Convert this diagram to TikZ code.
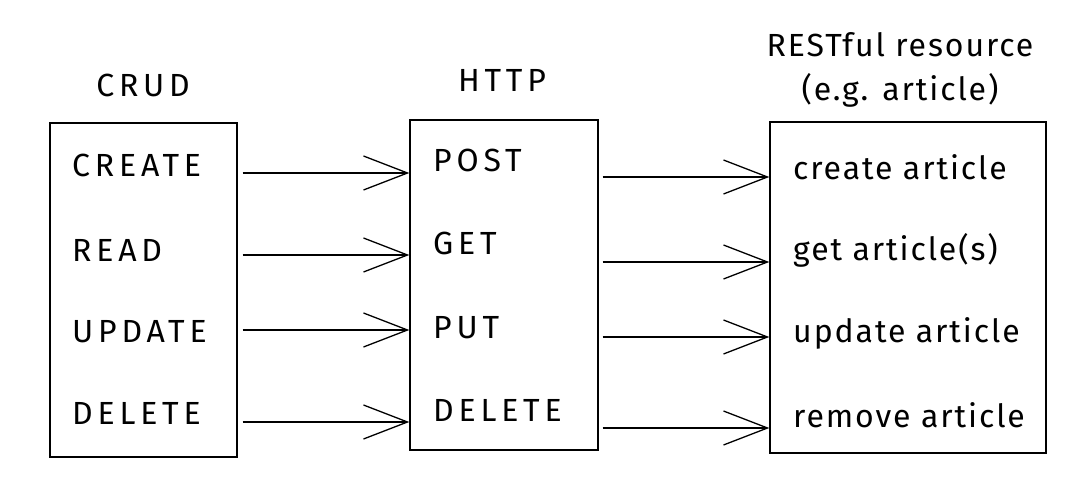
\documentclass[tikz,border=0pt]{standalone}
\usepackage{fontspec}
\setmainfont{Fira Sans}
\newfontfamily\capsfont[LetterSpace=15]{Fira Sans}
\newfontfamily\lowfont[LetterSpace=6]{Fira Sans}
\usetikzlibrary{arrows.meta,positioning}

\tikzset{
  box/.style={draw, line width=1.4pt, inner sep=0pt},
  lbl/.style={anchor=west, font=\fontsize{32}{36}\capsfont, inner sep=0pt},
  lowlbl/.style={anchor=west, font=\fontsize{32}{36}\lowfont, inner sep=0pt},
  ttl/.style={font=\fontsize{32}{44}\lowfont, inner sep=0pt, align=center},
  arr/.style={line width=1.3pt, -{Straight Barb[length=44pt,width=34pt,line width=1.3pt]}}
}

\begin{document}
\begin{tikzpicture}[x=1pt, y=-1pt]
    \useasboundingbox (0,0) rectangle (1088,486);
    % boxes
    \node[box, minimum width=187pt, minimum height=334pt] (crud) at (143.5,290) {};
    \node[box, minimum width=188pt, minimum height=330pt] (http) at (504,285) {};
    \node[box, minimum width=276pt, minimum height=331pt] (rest) at (908,287.5) {};
    % titles
    \node[ttl, font=\fontsize{32}{36}\capsfont] (crud-title) at (143,85) {CRUD};
    \node[ttl, font=\fontsize{32}{36}\capsfont] (http-title) at (502,80) {HTTP};
    \node[ttl] (rest-title) at (900,70) {RESTful resource\\(e.g. article)};
    % CRUD labels
    \node[lbl] (c1) at (72,165) {CREATE};
    \node[lbl] (c2) at (72,250) {READ};
    \node[lbl] (c3) at (72,332) {UPDATE};
    \node[lbl] (c4) at (72,413) {DELETE};
    % HTTP labels
    \node[lbl] (h1) at (433,160) {POST};
    \node[lbl] (h2) at (433,243) {GET};
    \node[lbl] (h3) at (433,328) {PUT};
    \node[lbl] (h4) at (433,410) {DELETE};
    % resource labels
    \node[lowlbl] (r1) at (793,167) {create article};
    \node[lowlbl] (r2) at (793,250) {get article(s)};
    \node[lowlbl] (r3) at (793,333) {update article};
    \node[lowlbl] (r4) at (793,415) {remove article};
    % arrows CRUD -> HTTP
    \draw[arr] ([xshift=5pt,yshift=-8pt]crud.east |- c1) -- ([yshift=-8pt]http.west |- c1);
    \draw[arr] ([xshift=5pt,yshift=-5pt]crud.east |- c2) -- ([yshift=-5pt]http.west |- c2);
    \draw[arr] ([xshift=5pt,yshift=2pt]crud.east |- c3) -- ([yshift=2pt]http.west |- c3);
    \draw[arr] ([xshift=5pt,yshift=-9pt]crud.east |- c4) -- ([yshift=-9pt]http.west |- c4);
    % arrows HTTP -> resource
    \draw[arr] ([xshift=4pt,yshift=-10pt]http.east |- r1) -- ([yshift=-10pt]rest.west |- r1);
    \draw[arr] ([xshift=4pt,yshift=-12pt]http.east |- r2) -- ([yshift=-12pt]rest.west |- r2);
    \draw[arr] ([xshift=4pt,yshift=-4pt]http.east |- r3) -- ([yshift=-4pt]rest.west |- r3);
    \draw[arr] ([xshift=4pt,yshift=-13pt]http.east |- r4) -- ([yshift=-13pt]rest.west |- r4);
\end{tikzpicture}
\end{document}
